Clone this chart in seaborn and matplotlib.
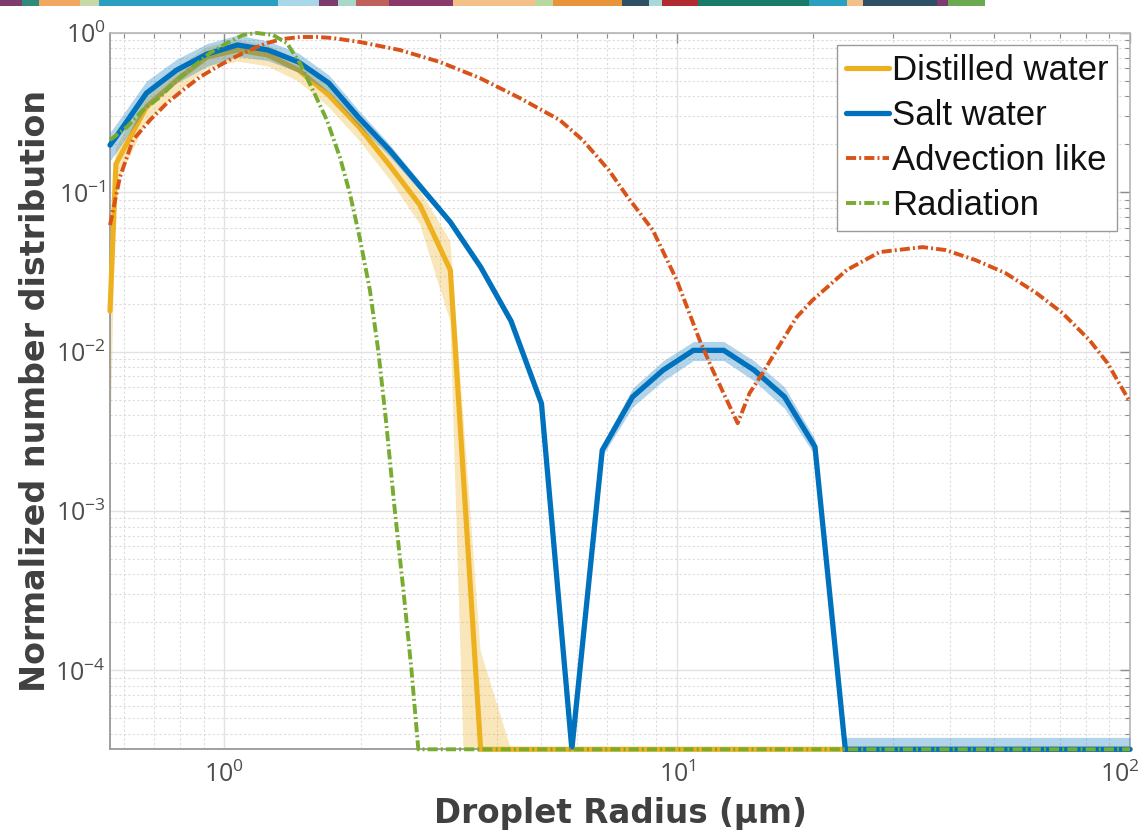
import numpy as np
import pandas as pd
import matplotlib
matplotlib.use("Agg")
import matplotlib.pyplot as plt
import matplotlib.transforms as mtransforms
import seaborn as sns
from matplotlib.ticker import LogLocator, LogFormatterMathtext, NullFormatter, FixedLocator

# ---------------- data ----------------
Z = 3.2e-5  # empty bins (drawn on the lower axis limit)

radius_bins = [0.559, 0.576, 0.673, 0.785, 0.916, 1.069, 1.248, 1.457, 1.700, 1.984,
               2.316, 2.703, 3.155, 3.681, 4.297, 5.015, 5.853, 6.831, 7.972, 9.305,
               10.86, 12.67, 14.79, 17.26, 20.15, 23.51, 27.44, 32.03, 37.38, 43.63,
               50.92, 59.43, 69.36, 80.95, 94.47, 100.0]

salt_mean = [0.198, 0.222, 0.42, 0.586, 0.7385, 0.841, 0.782, 0.658, 0.4855, 0.2927,
             0.1843, 0.1095, 0.0651, 0.034, 0.01556, 4.73e-3, Z, 2.41e-3, 5.21e-3, 7.66e-3,
             0.0102, 0.0102, 7.66e-3, 5.21e-3, 2.53e-3, Z, Z, Z, Z, Z,
             Z, Z, Z, Z, Z, Z]
salt_sd = [0.04, 0.045, 0.08, 0.10, 0.12, 0.13, 0.11, 0.09, 0.06, 0.032,
           0.016, 0.007, 0.003, 0.0012, 0.0004, 0.0001, 0.0, 0.0002, 0.0007, 0.0011,
           0.0014, 0.0014, 0.0011, 0.0008, 0.0003, 6e-6, 6e-6, 6e-6, 6e-6, 6e-6,
           6e-6, 6e-6, 6e-6, 6e-6, 6e-6, 6e-6]

distilled_mean = [0.018, 0.1505, 0.3446, 0.507, 0.707, 0.782, 0.727, 0.586, 0.408, 0.257,
                  0.148, 0.0832, 0.0325, Z, Z, Z, Z, Z, Z, Z,
                  Z, Z, Z, Z, Z, Z, Z, Z, Z, Z,
                  Z, Z, Z, Z, Z, Z]
distilled_sd = [0.016, 0.04, 0.07, 0.09, 0.11, 0.12, 0.11, 0.09, 0.065, 0.045,
                0.027, 0.02, 0.017, 1e-4, 0, 0, 0, 0, 0, 0,
                0, 0, 0, 0, 0, 0, 0, 0, 0, 0,
                0, 0, 0, 0, 0, 0]

advection_r = [0.559, 0.588, 0.628, 0.685, 0.747, 0.810, 0.883, 0.962, 1.044, 1.138,
               1.241, 1.346, 1.468, 1.600, 1.736, 1.991, 2.440, 2.991, 3.664, 4.491,
               5.503, 6.185, 7.062, 7.775, 8.832, 9.975, 11.21, 11.98, 13.60, 14.45,
               15.44, 18.36, 19.91, 23.67, 27.99, 34.83, 39.15, 45.61, 53.12, 62.16,
               70.96, 81.39, 89.20, 100.0]
advection_n = [0.0623, 0.1248, 0.213, 0.284, 0.3636, 0.4386, 0.5294, 0.6117, 0.6966, 0.782,
               0.865, 0.917, 0.944, 0.944, 0.930, 0.878, 0.782, 0.658, 0.522, 0.391,
               0.2844, 0.213, 0.138, 0.0934, 0.058, 0.02815, 0.01182, 7.66e-3, 3.56e-3, 5.50e-3,
               7.34e-3, 0.01649, 0.02108, 0.03253, 0.04219, 0.04535, 0.04343, 0.03758, 0.03113, 0.02332,
               0.01747, 0.01182, 8.48e-3, 4.83e-3]

radiation_r = [0.559, 0.609, 0.661, 0.7206, 0.7852, 0.852, 0.929, 1.013, 1.099, 1.179,
               1.280, 1.374, 1.468, 1.568, 1.684, 1.799, 1.892, 1.991, 2.096, 2.188,
               2.273, 2.379, 2.484, 2.589, 2.681, 100.0]
radiation_n = [0.213, 0.257, 0.3286, 0.3964, 0.507, 0.6117, 0.7488, 0.865, 0.9715, 1.0,
               0.9715, 0.865, 0.648, 0.4386, 0.2844, 0.1665, 0.099, 0.0516, 0.02436, 0.01005,
               3.76e-3, 1.01e-3, 3.22e-4, 1.01e-4, Z, Z]

labels = ["Distilled water", "Salt water", "Advection like", "Radiation"]
y_ticks = [1e-4, 1e-3, 1e-2, 1e-1, 1e0]
x_ticks = [1e0, 1e1, 1e2]

strip_widths = [22.7, 17.3, 41, 19, 182, 42, 19, 18, 34, 65, 83, 18, 70, 28, 13,
                37, 112, 39, 16, 75, 11, 38]
strip_colors = ["#7d3c6e", "#2e8b7a", "#f0a860", "#c8d9a8", "#2aa0c0", "#a8d8e8",
                "#7d3c6e", "#a8d8c8", "#c0605a", "#8a3a6a", "#f4c08a", "#b8d8a0",
                "#e8943a", "#2f4f66", "#a8d8d8", "#b02a30", "#1a7a6a", "#2aa0c0",
                "#f4c08a", "#2f4f66", "#7d3c6e", "#6aaa50"]

C_ORANGE = "#EDB120"
C_BLUE = "#0072BD"
C_RED = "#D95319"
C_GREEN = "#77AC30"

# ---------------- style ----------------
sns.set_theme(style="white")
plt.rcParams['font.family'] = ['Open Sans', 'DejaVu Sans']
plt.rcParams['mathtext.fontset'] = 'custom'
plt.rcParams['mathtext.rm'] = 'Open Sans'
plt.rcParams['mathtext.it'] = 'Open Sans:italic'
plt.rcParams['mathtext.bf'] = 'Open Sans:bold'
plt.rcParams['mathtext.default'] = 'regular'

W, H = 1144, 836
fig = plt.figure(figsize=(W / 100, H / 100), dpi=100)
ax = fig.add_axes([110 / W, (H - 749.3) / H, 1020 / W, 716.3 / H])
ax.set_xscale('log')
ax.set_yscale('log')

# bands
r = np.array(radius_bins)
d_m, d_s = np.array(distilled_mean), np.array(distilled_sd)
s_m, s_s = np.array(salt_mean), np.array(salt_sd)
ax.fill_between(r, np.maximum(d_m - d_s, 1e-8), d_m + d_s, color=C_ORANGE, alpha=0.3,
                lw=0, zorder=2)
ax.fill_between(r, np.maximum(s_m - s_s, 1e-8), s_m + s_s, color=C_BLUE, alpha=0.3,
                lw=0, zorder=4)

df_d = pd.DataFrame({'r': radius_bins, 'n': distilled_mean})
df_s = pd.DataFrame({'r': radius_bins, 'n': salt_mean})
df_a = pd.DataFrame({'r': advection_r, 'n': advection_n})
df_g = pd.DataFrame({'r': radiation_r, 'n': radiation_n})

handles = []
specs = [(df_d, C_ORANGE, 3.7, None, 3),
         (df_s, C_BLUE, 3.8, None, 5),
         (df_a, C_RED, 2.8, (2.6, 0.8, 0.5, 0.8), 6),
         (df_g, C_GREEN, 2.8, (2.6, 0.8, 0.5, 0.8), 7)]
for (df, col, lw, dsh, zo), lab in zip(specs, labels):
    n_before = len(ax.lines)
    sns.lineplot(data=df, x='r', y='n', ax=ax, color=col, lw=lw, errorbar=None,
                 estimator=None, sort=False, label=lab, zorder=zo)
    ln = ax.lines[n_before]
    ln.set_clip_on(False)
    if dsh is not None:
        ln.set_dashes(dsh)
    ln.set_solid_joinstyle('miter')
    handles.append(ln)

ax.set_xlim(radius_bins[0], 100)
ax.set_ylim(Z, 1.0)

# ticks
ax.xaxis.set_major_locator(FixedLocator(x_ticks))
ax.yaxis.set_major_locator(FixedLocator(y_ticks))
ax.xaxis.set_major_formatter(LogFormatterMathtext())
ax.yaxis.set_major_formatter(LogFormatterMathtext())
ax.xaxis.set_minor_locator(LogLocator(base=10, subs=np.arange(2, 10), numticks=30))
ax.yaxis.set_minor_locator(LogLocator(base=10, subs=np.arange(2, 10), numticks=30))
ax.xaxis.set_minor_formatter(NullFormatter())
ax.yaxis.set_minor_formatter(NullFormatter())
ax.tick_params(which='both', direction='in', top=True, right=True, color='#8c8c8c')
ax.tick_params(which='major', length=7, width=1.0, labelsize=18, labelcolor='#4d4d4d')
ax.tick_params(which='minor', length=3.5, width=0.8)
ax.tick_params(axis='x', which='major', pad=9)
ax.tick_params(axis='y', which='major', pad=3)

for s in ['left', 'bottom']:
    ax.spines[s].set_color('#999999')
    ax.spines[s].set_linewidth(1.3)
for s in ['top', 'right']:
    ax.spines[s].set_color('#b5b5b5')
    ax.spines[s].set_linewidth(1.2)

ax.grid(True, which='major', color='#e2e2e2', lw=1.0, ls='-')
ax.grid(True, which='minor', color='#dcdcdc', lw=0.8, ls=(0, (2, 2)))
ax.set_axisbelow(True)

ax.set_xlabel('Droplet Radius (μm)', fontsize=23.5, fontweight='bold', color='#404040',
              family='DejaVu Sans')
ax.set_ylabel('Normalized number distribution', fontsize=24, fontweight='bold',
              color='#404040', family='DejaVu Sans')
ax.xaxis.set_label_coords(0.5, -0.067)
ax.yaxis.set_label_coords(-0.057, 0.5)

leg = ax.legend(handles=handles, labels=labels, loc='upper right',
                bbox_to_anchor=((1117 - 110) / 1020, 1 - (45 - 33) / 716.3),
                borderaxespad=0, frameon=True, fancybox=False, framealpha=1,
                prop={'family': 'Liberation Sans', 'size': 25},
                handlelength=1.24, handletextpad=0.09, borderpad=0.25, labelspacing=0.35)
leg.get_frame().set_edgecolor('#9a9a9a')
leg.get_frame().set_linewidth(1.0)
leg.set_zorder(10)
for t in leg.get_texts():
    t.set_color('#111111')

# decorative colour strip at top
sax = fig.add_axes([0, 1 - 6 / H, 985 / W, 6 / H])
lefts = np.concatenate([[0], np.cumsum(strip_widths)[:-1]])
sax.barh(0, strip_widths, left=lefts, color=strip_colors, height=1.0, lw=0)
sax.set_xlim(0, sum(strip_widths))
sax.set_ylim(-0.5, 0.5)
sax.axis('off')

# keep the last x tick label inside the figure (as in the reference)
fig.canvas.draw()
last = ax.xaxis.get_major_ticks()[-1].label1
last.set_transform(last.get_transform() +
                   mtransforms.ScaledTranslation(-0.1, 0, fig.dpi_scale_trans))

fig.savefig('out.png', dpi=100)
